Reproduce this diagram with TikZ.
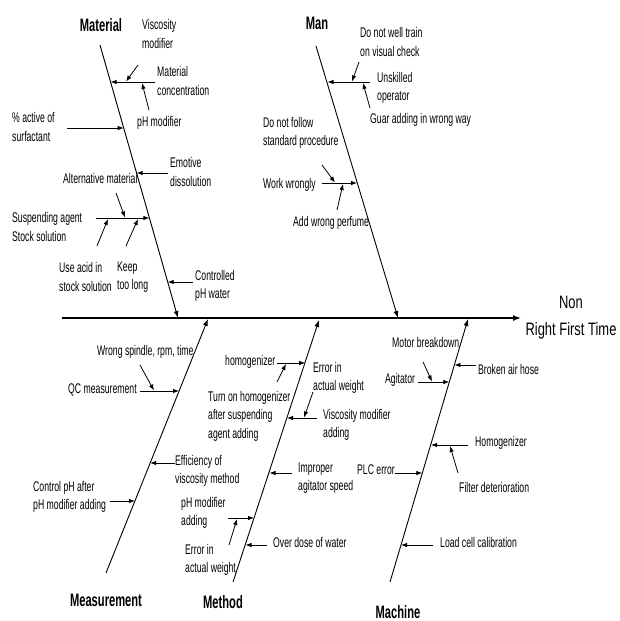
\documentclass[tikz,border=0pt]{standalone}
\usepackage{fontspec}
\setmainfont{Liberation Sans}[FakeStretch=0.62]
\newfontfamily\headfont{Liberation Sans}[FakeStretch=0.72]
\usetikzlibrary{arrows.meta}
\begin{document}
\begin{tikzpicture}[x=1pt,y=-1pt,
  lbl/.style={font=\fontsize{14}{18.5}\selectfont, align=left, inner sep=0pt, anchor=west},
  ttl/.style={font=\fontsize{18}{20}\selectfont\bfseries, inner sep=0pt},
  arr/.style={-{Latex[length=6pt,width=4.5pt]}, line width=0.8pt},
  bone/.style={-{Latex[length=7pt,width=5pt]}, line width=0.9pt},
  spine/.style={-{Latex[length=8pt,width=6pt]}, line width=1.5pt}]
\useasboundingbox (0,0) rectangle (619,621);

% ---------- spine and effect ----------
\coordinate (sp0) at (62,318);
\coordinate (sp1) at (521,318);
\draw[spine] (sp0) -- (sp1);
\node[inner sep=0pt, align=center, font=\headfont\fontsize{18}{27}\selectfont] (effect) at (571,318) {Non\\Right First Time};

% ---------- bones ----------
\coordinate (matT) at (100,45);   \coordinate (matB) at (178,318);
\coordinate (manT) at (316,46);   \coordinate (manB) at (398,318);
\coordinate (meaB) at (106,573);  \coordinate (meaT) at (208,319);
\coordinate (metB) at (233,582);  \coordinate (metT) at (319,320);
\coordinate (macB) at (390,582);  \coordinate (macT) at (468,319);
\draw[bone] (matT) -- (matB);
\draw[bone] (manT) -- (manB);
\draw[bone] (meaB) -- (meaT);
\draw[bone] (metB) -- (metT);
\draw[bone] (macB) -- (macT);

\node[ttl] (tMaterial) at (101,25) {Material};
\node[ttl] (tMan) at (317,23) {Man};
\node[ttl] (tMeasurement) at (106,600) {Measurement};
\node[ttl] (tMethod) at (223,602) {Method};
\node[ttl] (tMachine) at (398,612) {Machine};

% ---------- Material ----------
\node[lbl] (l1) at (142,34) {Viscosity\\modifier};
\node[lbl] (l2) at (157,81) {Material\\concentration};
\node[lbl] (l3) at (137,123) {pH modifier};
\node[lbl] (l4) at (12,127) {\% active of\\surfactant};
\node[lbl] (l5) at (170,172) {Emotive\\dissolution};
\node[lbl] (l6) at (63,178) {Alternative material};
\node[lbl] (l7) at (12,227) {Suspending agent\\Stock solution};
\node[lbl] (l8) at (59,277) {Use acid in\\stock solution};
\node[lbl] (l9) at (117,277) {Keep\\too long};
\node[lbl] (l10) at (195,286) {Controlled\\pH water};

\coordinate (a1s) at (155,82);  \coordinate (a1e) at (110.6,82);
\coordinate (a1vs) at (138,65); \coordinate (a1ve) at (126,81.5);
\coordinate (a1ps) at (149,110);\coordinate (a1pe) at (142,83);
\coordinate (a2s) at (67,128);  \coordinate (a2e) at (123.7,128);
\coordinate (a3s) at (168,173); \coordinate (a3e) at (136.6,173);
\coordinate (a4s) at (96,218);  \coordinate (a4e) at (149.4,218);
\coordinate (a4as) at (116,193);\coordinate (a4ae) at (125,217.5);
\coordinate (a4bs) at (97,246); \coordinate (a4be) at (108,219);
\coordinate (a4cs) at (126,246);\coordinate (a4ce) at (138,219);
\coordinate (a5s) at (193,282); \coordinate (a5e) at (167.7,282);
\draw[arr] (a1s) -- (a1e);
\draw[arr] (a1vs) -- (a1ve);
\draw[arr] (a1ps) -- (a1pe);
\draw[arr] (a2s) -- (a2e);
\draw[arr] (a3s) -- (a3e);
\draw[arr] (a4s) -- (a4e);
\draw[arr] (a4as) -- (a4ae);
\draw[arr] (a4bs) -- (a4be);
\draw[arr] (a4cs) -- (a4ce);
\draw[arr] (a5s) -- (a5e);

% ---------- Man ----------
\node[lbl] (m1) at (360,42) {Do not well train\\on visual check};
\node[lbl] (m2) at (377,88) {Unskilled\\operator};
\node[lbl] (m3) at (370,120) {Guar adding in wrong way};
\node[lbl] (m4) at (263,133) {Do not follow\\standard procedure};
\node[lbl] (m5) at (263,185) {Work wrongly};
\node[lbl] (m6) at (293,223) {Add wrong perfume};

\coordinate (b1s) at (370,82);  \coordinate (b1e) at (327.5,82);
\coordinate (b1as) at (359,62); \coordinate (b1ae) at (352,81.5);
\coordinate (b1bs) at (370,108);\coordinate (b1be) at (363,83);
\coordinate (b2s) at (322,183); \coordinate (b2e) at (357,183);
\coordinate (b2as) at (322,165);\coordinate (b2ae) at (335,182.5);
\coordinate (b2bs) at (337,210);\coordinate (b2be) at (343,184);
\draw[arr] (b1s) -- (b1e);
\draw[arr] (b1as) -- (b1ae);
\draw[arr] (b1bs) -- (b1be);
\draw[arr] (b2s) -- (b2e);
\draw[arr] (b2as) -- (b2ae);
\draw[arr] (b2bs) -- (b2be);

% ---------- Measurement ----------
\node[lbl] (q1) at (97,352) {Wrong spindle, rpm, time};
\node[lbl] (q2) at (68,390) {QC measurement};
\node[lbl] (q3) at (175,471) {Efficiency of\\viscosity method};
\node[lbl] (q4) at (33,497) {Control pH after\\pH modifier adding};

\coordinate (c1s) at (140,391); \coordinate (c1e) at (179,391);
\coordinate (c1as) at (140,365);\coordinate (c1ae) at (154,390.5);
\coordinate (c2s) at (175,463); \coordinate (c2e) at (150.2,463);
\coordinate (c3s) at (110,501); \coordinate (c3e) at (134.9,501);
\draw[arr] (c1s) -- (c1e);
\draw[arr] (c1as) -- (c1ae);
\draw[arr] (c2s) -- (c2e);
\draw[arr] (c3s) -- (c3e);

% ---------- Method ----------
\node[lbl] (h1) at (225,362) {homogenizer};
\node[lbl] (h2) at (208,416) {Turn on homogenizer\\after suspending\\agent adding};
\node[lbl] (h3) at (313,378) {Error in\\actual weight};
\node[lbl] (h4) at (323,425) {Viscosity modifier\\adding};
\node[lbl] (h5) at (298,478) {Improper\\agitator speed};
\node[lbl] (h6) at (181,513) {pH modifier\\adding};
\node[lbl] (h7) at (185,560) {Error in\\actual weight};
\node[lbl] (h8) at (273,542) {Over dose of water};

\coordinate (d1s) at (277,363); \coordinate (d1e) at (305.2,363);
\coordinate (d1as) at (277,382);\coordinate (d1ae) at (286,364);
\coordinate (d2s) at (317,418); \coordinate (d2e) at (287,418);
\coordinate (d2as) at (313,392);\coordinate (d2ae) at (304,417.5);
\coordinate (d3s) at (292,473); \coordinate (d3e) at (269.5,473);
\coordinate (d4s) at (228,518); \coordinate (d4e) at (254,518);
\coordinate (d4as) at (229,545);\coordinate (d4ae) at (237,519);
\coordinate (d5s) at (267,545); \coordinate (d5e) at (245.5,545);
\draw[arr] (d1s) -- (d1e);
\draw[arr] (d1as) -- (d1ae);
\draw[arr] (d2s) -- (d2e);
\draw[arr] (d2as) -- (d2ae);
\draw[arr] (d3s) -- (d3e);
\draw[arr] (d4s) -- (d4e);
\draw[arr] (d4as) -- (d4ae);
\draw[arr] (d5s) -- (d5e);

% ---------- Machine ----------
\node[lbl] (k1) at (392,342) {Motor breakdown};
\node[lbl] (k2) at (385,380) {Agitator};
\node[lbl] (k3) at (478,369) {Broken air hose};
\node[lbl] (k4) at (475,443) {Homogenizer};
\node[lbl] (k5) at (459,487) {Filter deterioration};
\node[lbl] (k6) at (357,470) {PLC error};
\node[lbl] (k7) at (440,542) {Load cell calibration};

\coordinate (e1s) at (418,382); \coordinate (e1e) at (449.3,382);
\coordinate (e1as) at (423,362);\coordinate (e1ae) at (432,381.5);
\coordinate (e2s) at (476,365); \coordinate (e2e) at (454.4,365);
\coordinate (e3s) at (468,445); \coordinate (e3e) at (431,445);
\coordinate (e3as) at (458,473);\coordinate (e3ae) at (450,446);
\coordinate (e4s) at (395,473); \coordinate (e4e) at (422.3,473);
\coordinate (e5s) at (433,545); \coordinate (e5e) at (401,545);
\draw[arr] (e1s) -- (e1e);
\draw[arr] (e1as) -- (e1ae);
\draw[arr] (e2s) -- (e2e);
\draw[arr] (e3s) -- (e3e);
\draw[arr] (e3as) -- (e3ae);
\draw[arr] (e4s) -- (e4e);
\draw[arr] (e5s) -- (e5e);
\end{tikzpicture}
\end{document}
